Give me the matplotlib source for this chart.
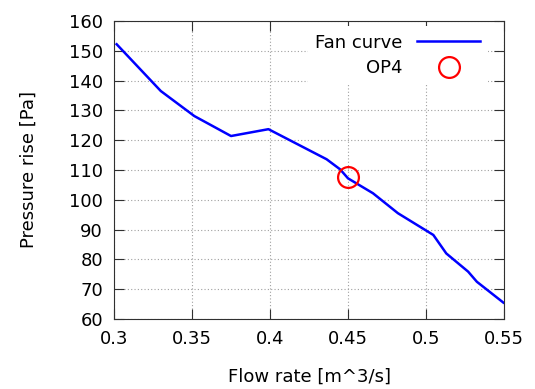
import numpy as np
import matplotlib
matplotlib.use("Agg")
from matplotlib import pyplot as plt

# fan curve
flow = [0.3017, 0.330, 0.3515, 0.375, 0.399, 0.4363, 0.445, 0.450, 0.466,
        0.482, 0.5047, 0.513, 0.527, 0.5326, 0.5496]
pressure = [152.2, 136.5, 128.1, 121.4, 123.7, 113.6, 110.2, 107.2, 102.2,
            95.5, 88.2, 82.0, 75.9, 72.5, 65.5]

op_flow = [0.45]
op_pressure = [107.6]

xticks = [0.3, 0.35, 0.4, 0.45, 0.5, 0.55]
xlabels = ['0.3', '0.35', '0.4', '0.45', '0.5', '0.55']
yticks = list(range(60, 161, 10))

plt.rcParams['font.family'] = 'DejaVu Sans'
plt.rcParams['font.size'] = 13

fig = plt.figure(figsize=(5.35, 3.89), dpi=100)
ax = fig.add_axes([114/535, 70/389, 390/535, 298/389])

ax.plot(flow, pressure, color='#0000ff', lw=1.8, label='Fan curve')
ax.plot(op_flow, op_pressure, 'o', mfc='none', mec='#ff0000', mew=1.6, ms=15,
        label='OP4', zorder=5)

ax.set_xlim(0.3, 0.55)
ax.set_ylim(60, 160)
ax.set_xticks(xticks)
ax.set_xticklabels(xlabels)
ax.set_yticks(yticks)
ax.grid(True, ls=(0, (1, 2)), color='#a0a0a0', lw=0.8)
ax.tick_params(direction='in', length=7, top=True, right=True, color='#303030', pad=8)
for s in ax.spines.values():
    s.set_color('#303030')

ax.set_xlabel('Flow rate [m^3/s]', labelpad=14)
ax.set_ylabel('Pressure rise [Pa]', labelpad=22)

leg = ax.legend(loc='upper right', bbox_to_anchor=(1 - 11/390, 1),
                markerfirst=False, handlelength=3.5,
                frameon=True, framealpha=1, edgecolor='none', fancybox=False,
                borderaxespad=0.3, labelspacing=0.4, numpoints=1)

fig.savefig('out.png', dpi=100)
